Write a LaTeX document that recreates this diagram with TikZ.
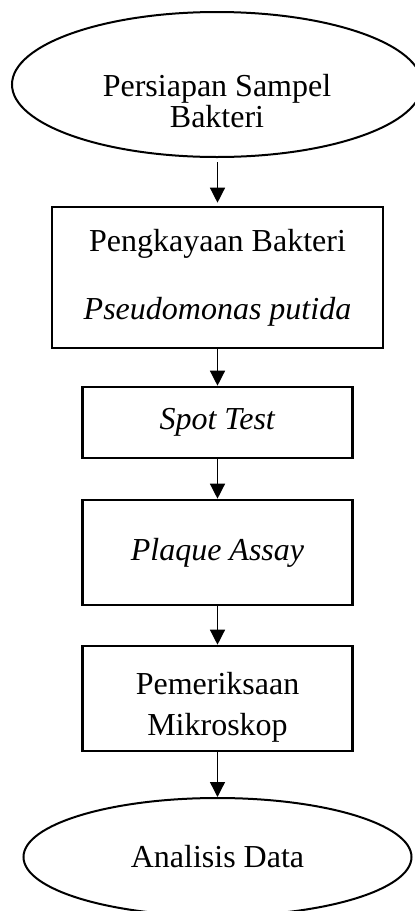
\documentclass[tikz,border=0pt]{standalone}
\usepackage{fontspec}
\setmainfont{Liberation Serif}
\usetikzlibrary{arrows.meta,shapes.geometric}
\begin{document}
\begin{tikzpicture}[x=0.5pt, y=-0.5pt,
    every node/.style={font=\fontsize{16}{13}\selectfont},
    terminal/.style={draw, ellipse, line width=1pt, inner sep=0pt},
    process/.style={draw, rectangle, line width=1.3pt, align=center, inner sep=0pt, minimum width=135pt},
    flow/.style={-{Triangle[width=7.5pt,length=7.5pt]}, line width=0.65pt}]
    \useasboundingbox (0,0) rectangle (415,911);

    % Start
    \node[terminal, minimum width=205pt, minimum height=72.5pt] (start) at (217,84.5) {};
    \node[align=center] (starttext) at (217,101) {Persiapan Sampel\\Bakteri};

    % Steps
    \node[process, minimum width=165.5pt, minimum height=70.5pt] (enrich) at (217.5,277.5)
        {Pengkayaan Bakteri\\[18.5pt]\textit{Pseudomonas putida}};
    \node[process, minimum height=35.5pt] (spot) at (217.5,422.5) {\textit{Spot Test}};
    \node[process, minimum height=52.5pt] (plaque) at (217.5,552.5) {\textit{Plaque Assay}};
    \node[process, minimum height=52.5pt] (micro) at (217.5,698.5) {};
    \node[align=center] (microtext) at (217.5,707) {Pemeriksaan\\[7.5pt]Mikroskop};

    % End
    \node[terminal, minimum width=194pt, minimum height=59pt] (finish) at (217.5,857) {Analisis Data};

    % Arrows
    \draw[flow, shorten <=2pt, shorten >=1.5pt] (start.south -| enrich.north) -- (enrich.north);
    \draw[flow] (enrich) -- (spot);
    \draw[flow] (spot) -- (plaque);
    \draw[flow] (plaque) -- (micro);
    \draw[flow] (micro) -- (finish);
\end{tikzpicture}
\end{document}
